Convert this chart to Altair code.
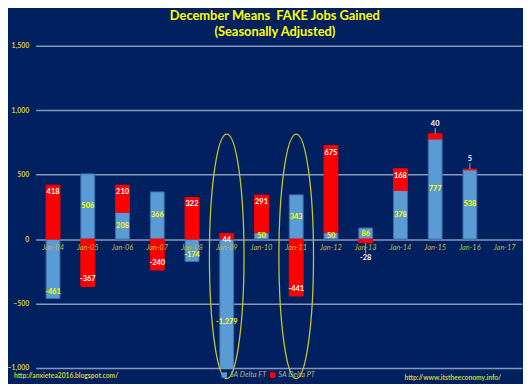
import altair as alt
import pandas as pd

# ---------------- data ----------------
CATEGORIES = ["Jan-04", "Jan-05", "Jan-06", "Jan-07", "Jan-08", "Jan-09", "Jan-10",
              "Jan-11", "Jan-12", "Jan-13", "Jan-14", "Jan-15", "Jan-16", "Jan-17"]
SA_DELTA_FT = [-461, 506, 208, 366, -174, -1279, 50, 343, 50, 86, 378, 777, 538, None]
SA_DELTA_PT = [418, -367, 210, -240, 322, 44, 291, -441, 675, -28, 168, 40, 5, None]
SERIES = ["SA Delta FT", "SA Delta PT"]
Y_TICKS = [-1000, -500, 0, 500, 1000, 1500]
Y_DOMAIN = [-1000, 1500]
CIRCLED = ["Jan-09", "Jan-11"]
CIRCLE_CENTER = [-134, -134]
TITLE_LINES = ["December Means \u00a0FAKE Jobs Gained", "(Seasonally Adjusted)"]
LEFT_URL = "http://anxietea2016.blogspot.com/"
RIGHT_URL = "http://www.itstheeconomy.info/"

# ---------------- styling ----------------
BG = "#002060"
BLUE = "#5b9bd5"
BLUE_EDGE = "#3b6ea8"
RED = "#ff0000"
YELLOW = "#ffff00"
OLIVE = "#d2d232"
FONT = "Lato"
W, H = 492, 326
PPU = H / (Y_DOMAIN[1] - Y_DOMAIN[0])   # pixels per unit
SMALL = 40          # PT segments this small get their label outside the bar

bars, ft_labels, pt_labels, leaders = [], [], [], []
for cat, ft, pt in zip(CATEGORIES, SA_DELTA_FT, SA_DELTA_PT):
    if ft is None:
        continue
    bars.append({"cat": cat, "series": SERIES[0], "y": 0, "y2": ft})
    if ft < 0 and ft >= Y_DOMAIN[0]:
        fly = min(ft / 2, ft + 6.5 / PPU)     # negative bars: label near the bar end
    else:
        fly = ft / 2
    ft_labels.append({"cat": cat, "ly": fly, "txt": f"{ft:,}"})
    base = ft if (pt >= 0) == (ft >= 0) else 0
    end = base + pt
    bars.append({"cat": cat, "series": SERIES[1], "y": base, "y2": end})
    sgn = 1 if pt > 0 else -1
    if abs(pt) > SMALL:
        ly = end - sgn * 7 / PPU
    else:
        gap = 10 if sgn > 0 else 15
        ly = end + sgn * gap / PPU
        leaders.append({"cat": cat, "a": end, "b": end + sgn * (gap - 4) / PPU})
    pt_labels.append({"cat": cat, "ly": ly, "txt": f"{pt:,}"})

bars = pd.DataFrame(bars)
ft_labels = pd.DataFrame(ft_labels)
pt_labels = pd.DataFrame(pt_labels)
leaders = pd.DataFrame(leaders)
rings = pd.DataFrame({"cat": CIRCLED, "c": CIRCLE_CENTER})

x_axis = alt.Axis(title=None, domain=False, ticks=False, labelAngle=0,
                  labelFont=FONT, labelFontStyle="italic", labelFontSize=7.5,
                  labelColor="#bcbc3c", labelPadding=8.5, labelBaseline="middle",
                  offset=-(H - (Y_DOMAIN[1]) * PPU), zindex=1)
y_axis = alt.Axis(title=None, values=Y_TICKS, format=",d", domain=False, ticks=False,
                  labelFont=FONT, labelFontSize=7, labelFontWeight="bold",
                  labelColor=OLIVE, labelPadding=7, grid=True,
                  gridColor="#8797b8", gridWidth=1.3)
x_scale = alt.Scale(domain=CATEGORIES, paddingInner=0.6016, paddingOuter=0.3008)
y_scale = alt.Scale(domain=Y_DOMAIN, nice=False, zero=False)


def X():
    return alt.X("cat:N", scale=x_scale, axis=x_axis, sort=CATEGORIES)


def Y(field):
    return alt.Y(f"{field}:Q", scale=y_scale, axis=y_axis)


bar_layer = alt.Chart(bars).mark_bar(clip=True, strokeWidth=1).encode(
    x=X(),
    y=Y("y"),
    y2="y2:Q",
    color=alt.Color("series:N", scale=alt.Scale(domain=SERIES, range=[BLUE, RED]),
                    legend=alt.Legend(title=None, orient="none", direction="horizontal",
                                      legendX=187, legendY=329, symbolType="square",
                                      symbolSize=30, symbolStrokeWidth=0,
                                      labelFont=FONT, labelFontStyle="italic",
                                      labelFontSize=7.5, labelColor="#b4b47e",
                                      labelOffset=2, columnPadding=2, padding=0)),
    stroke=alt.Stroke("series:N", scale=alt.Scale(domain=SERIES, range=[BLUE_EDGE, RED]),
                      legend=None),
)

leader_layer = alt.Chart(leaders).mark_rule(color="#c8c8c8", strokeWidth=0.8).encode(
    x=X(), y=Y("a"), y2="b:Q")

ft_text = alt.Chart(ft_labels).mark_text(font=FONT, fontSize=7.5, fontWeight="bold",
                                         color=YELLOW, baseline="middle").encode(
    x=X(), y=Y("ly"), text="txt:N")

pt_text = alt.Chart(pt_labels).mark_text(font=FONT, fontSize=7.5, fontWeight="bold",
                                         color="white", baseline="middle").encode(
    x=X(), y=Y("ly"), text="txt:N")

k = 0.5523
a = 17.5 / 123.7
ka = k * a
ELLIPSE = (f"M 0 -1 C {ka:.4f} -1 {a:.4f} -{k} {a:.4f} 0 "
           f"C {a:.4f} {k} {ka:.4f} 1 0 1 "
           f"C -{ka:.4f} 1 -{a:.4f} {k} -{a:.4f} 0 "
           f"C -{a:.4f} -{k} -{ka:.4f} -1 0 -1 Z")
ring_layer = alt.Chart(rings).mark_point(shape=ELLIPSE, filled=False, size=247.4 ** 2,
                                         stroke="#c4c42c", strokeWidth=1.3,
                                         opacity=1).encode(
    x=X(), y=Y("c"))

url_left = alt.Chart(pd.DataFrame({"t": [LEFT_URL]})).mark_text(
    font=FONT, fontSize=6.8, fontWeight="bold", color=OLIVE, align="left",
    baseline="middle").encode(x=alt.value(-22), y=alt.value(334.5), text="t:N")
url_right = alt.Chart(pd.DataFrame({"t": [RIGHT_URL]})).mark_text(
    font=FONT, fontSize=6.8, fontWeight="bold", color=OLIVE, align="right",
    baseline="middle").encode(x=alt.value(471), y=alt.value(336), text="t:N")

chart = alt.layer(bar_layer, leader_layer, ft_text, pt_text, ring_layer,
                  url_left, url_right).properties(
    width=W, height=H,
    title=alt.TitleParams(text=TITLE_LINES, font=FONT, fontSize=13, fontWeight="bold",
                          color=YELLOW, anchor="middle", dx=-4, offset=2.5,
                          lineHeight=17),
    autosize=alt.AutoSizeParams(type="none"),
    padding={"left": 28, "top": 36, "right": 1, "bottom": 14},
    background=BG,
).configure_view(stroke=None)

chart.save("out.html", embed_options={"renderer": "svg", "actions": False})
